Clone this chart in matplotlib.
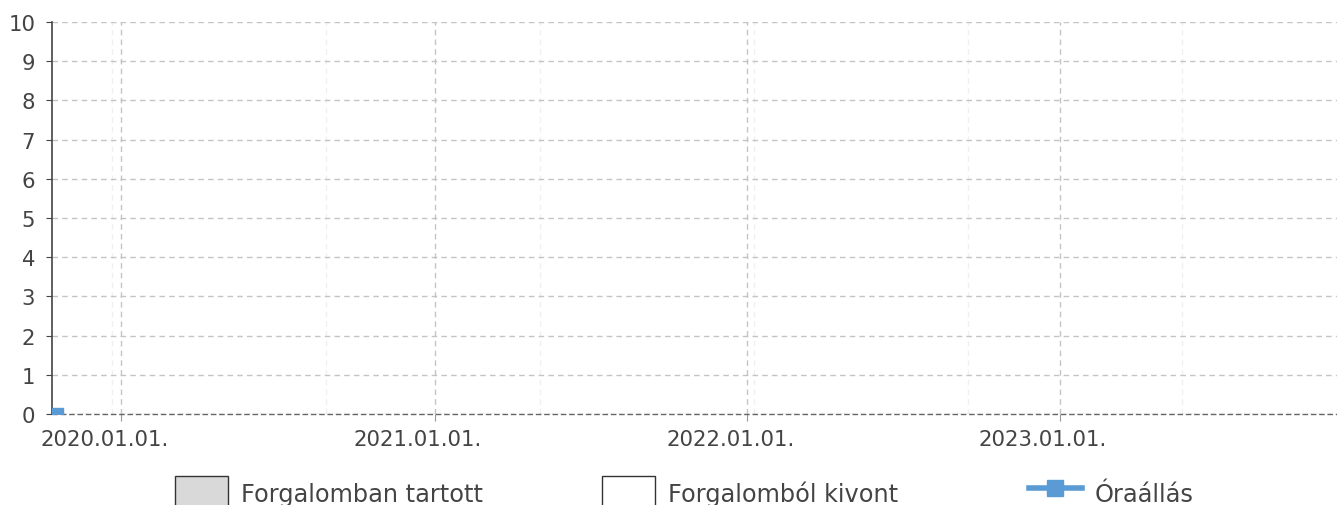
import datetime as dt
import matplotlib
matplotlib.use("Agg")
import matplotlib.pyplot as plt
import matplotlib.dates as mdates
from matplotlib.patches import Patch
from matplotlib.lines import Line2D
import matplotlib.transforms as mtrans

# data
reading_dates = [dt.date(2019, 10, 18)]
reading_values = [0]
year_ticks = [dt.date(2020, 1, 1), dt.date(2021, 1, 1), dt.date(2022, 1, 1), dt.date(2023, 1, 1)]
x_start = dt.date(2019, 10, 12)
x_end = dt.date(2023, 11, 21)
legend_labels = ["Forgalomban tartott", "Forgalomból kivont", "Óraállás"]

text_col = "#444444"
blue = "#5b9bd5"
W, H = 1337, 506

fig = plt.figure(figsize=(W / 100, H / 100), dpi=100)
ax = fig.add_axes([52 / W, 1 - 415 / H, (W - 52) / W, (415 - 23) / H])

ax.plot(reading_dates, reading_values, color=blue, lw=3, marker="s",
        markersize=8, clip_on=True, zorder=5)

ax.set_xlim(x_start, x_end)
ax.set_ylim(0, 10)
ax.set_yticks(range(0, 11))

ax.set_xticks(year_ticks)
ax.xaxis.set_major_formatter(mdates.DateFormatter("%Y.%m.%d."))
minor = [dt.date(2019, 12, 21) + dt.timedelta(days=250 * i) for i in range(6)]
ax.set_xticks(minor, minor=True)

ax.grid(True, which="major", axis="both", linestyle=(0, (4, 3)), color="#c4c4c4", lw=1)
ax.grid(True, which="minor", axis="x", linestyle=(0, (4, 3)), color="#f0f0f0", lw=1)
ax.axhline(0, color="#666666", lw=1, linestyle=(0, (4, 2)), zorder=3, clip_on=False)

for s in ["top", "right", "bottom"]:
    ax.spines[s].set_visible(False)
ax.spines["left"].set_color("#444444")
ax.spines["left"].set_linewidth(1.2)

ax.tick_params(axis="y", labelsize=15.3, colors=text_col, length=4.5, pad=7.5)
ax.tick_params(axis="x", which="major", labelsize=15.3, colors=text_col, length=5,
               color="#999999", pad=6)
ax.tick_params(axis="x", which="minor", length=0)

offset = mtrans.ScaledTranslation(-17 / 100, 0, fig.dpi_scale_trans)
for lab in ax.get_xticklabels():
    lab.set_transform(lab.get_transform() + offset)

handles = [
    Patch(facecolor="#d9d9d9", edgecolor="#333333", lw=1),
    Patch(facecolor="white", edgecolor="#333333", lw=1),
    Line2D([0], [0], color=blue, lw=4, marker="s", markersize=11),
]
# legend entries sit at fixed spots along the bottom edge
left_px = [175, 602, 1029]
for h, lab, xp in zip(handles, legend_labels, left_px):
    fig.legend([h], [lab], loc="upper left", bbox_to_anchor=(xp / W, 1 - 477 / H),
               frameon=False, fontsize=17.3, labelcolor=text_col, borderpad=0,
               borderaxespad=0, handlelength=2.2, handleheight=1.8, handletextpad=0.55)

fig.savefig("out.png", dpi=100)
